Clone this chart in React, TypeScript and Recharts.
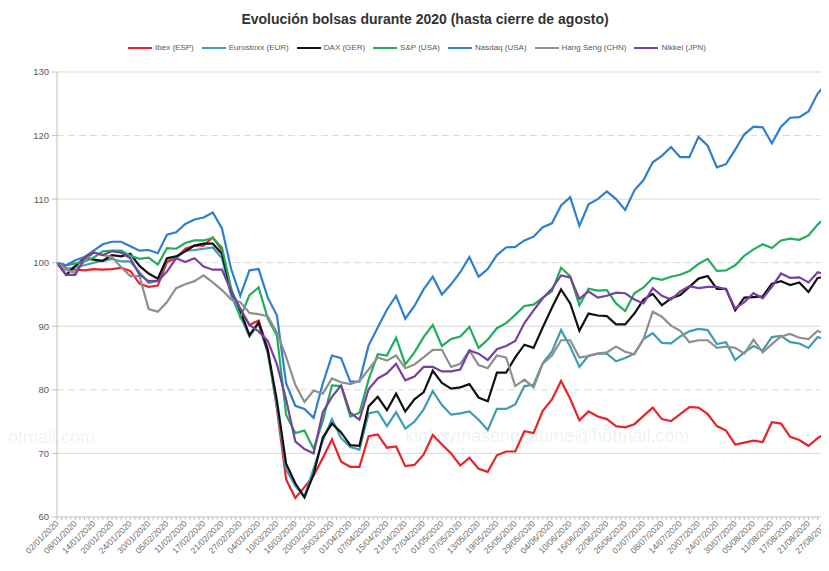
import { LineChart, Line, XAxis, YAxis, ReferenceLine, Legend } from 'recharts';

// one point every 2 trading days, from 02/01/2020 (x = 0) to 31/08/2020 (x = 170)
const ibex = [
  100, 99.1, 98.9, 98.8, 99, 98.9, 99, 99.2, 98.7, 96.7,
  96.2, 96.4, 100.1, 100.7, 102.2, 102.7, 102.7, 104, 102, 95.5,
  92.7, 90.2, 90.9, 86.4, 77, 65.9, 63, 64.7, 66.5, 69.3,
  72.2, 68.7, 67.9, 67.9, 72.7, 73, 70.9, 71.1, 68, 68.2,
  69.8, 72.9, 71.4, 70, 68.1, 69.3, 67.6, 67.1, 69.7, 70.3,
  70.3, 73.5, 73.2, 76.7, 78.5, 81.4, 78.6, 75.2, 76.6, 75.8,
  75.4, 74.3, 74.1, 74.6, 75.9, 77.2, 75.4, 75.1, 76.2, 77.3,
  77.2, 76.2, 74.3, 73.6, 71.4, 71.7, 72, 71.8, 74.9, 74.7,
  72.6, 72.1, 71.2, 72.4, 73.3, 71.9,
];
const eurostoxx = [
  100, 98.9, 99.3, 99.6, 100, 100.3, 100.6, 100.2, 100.2, 98.5,
  96.8, 97.2, 100.6, 100.7, 101.9, 102, 102.2, 102.4, 100.7, 94.8,
  91.6, 88.4, 90.4, 85.7, 77.4, 67.5, 64.9, 63.2, 67.6, 72,
  75.4, 72.4, 71, 70.6, 76.3, 76.6, 74.3, 76.5, 73.9, 75,
  76.9, 79.8, 77.6, 76.1, 76.3, 76.6, 75.3, 73.7, 77, 77,
  77.7, 80.6, 80.8, 84.2, 86, 89.4, 86.8, 83.6, 85.4, 85.7,
  85.7, 84.5, 85, 85.7, 88, 88.9, 87.4, 87.3, 88.4, 89.2,
  89.6, 89.4, 87.2, 87.5, 84.7, 85.9, 86.9, 86.2, 88.3, 88.5,
  87.5, 87.3, 86.6, 88.3, 87.9, 86.7,
];
const dax = [
  100, 98.1, 99.5, 100.7, 100.5, 100.3, 101.2, 101, 101.4, 99.5,
  98.3, 97.5, 100.7, 101, 101.8, 102.7, 103, 103, 101.4, 95.5,
  92.4, 88.6, 90.6, 86.2, 78.3, 68.4, 65.3, 63.1, 66.7, 72.5,
  74.7, 73.3, 71.3, 71.2, 77.4, 78.9, 76.8, 79.4, 76.6, 78.5,
  79.6, 83, 81.1, 80.2, 80.4, 80.9, 78.8, 78.2, 82.7, 82.7,
  85.1, 87.1, 86.6, 89.8, 92.9, 95.8, 93.6, 89.3, 92, 91.7,
  91.6, 90.3, 90.3, 92, 94.2, 95.1, 93.3, 94.4, 94.9, 96.2,
  97.5, 97.9, 95.9, 95.9, 92.5, 94.5, 94.6, 94.7, 96.7, 97.1,
  96.5, 96.9, 95.4, 97.6, 97.8, 96.7,
];
const sp500 = [
  100, 99.6, 99.9, 100.2, 100.8, 101.8, 101.9, 101.9, 101.1, 100.6,
  100.8, 99.7, 102.3, 102.2, 103.1, 103.5, 103.5, 103.9, 102.4, 96,
  91.4, 94.9, 96.1, 91.2, 88.5, 76.1, 73.2, 73.6, 70.7, 75.1,
  80.7, 80.6, 75.8, 76.4, 81.6, 85.6, 85.4, 88.2, 84, 85.9,
  88.3, 90.2, 86.9, 88, 88.4, 89.9, 86.6, 87.9, 89.7, 90.5,
  91.8, 93.2, 93.4, 94.5, 95.5, 99.2, 97.9, 93.3, 95.9, 95.6,
  95.7, 93.6, 92.4, 95.2, 96.1, 97.6, 97.3, 97.8, 98.1, 98.7,
  99.8, 100.6, 98.7, 98.8, 99.6, 101.1, 102.1, 102.9, 102.3, 103.5,
  103.8, 103.6, 104.3, 106, 107.3, 107.8,
];
const nasdaq = [
  100, 99.6, 100.4, 100.9, 101.9, 102.9, 103.3, 103.3, 102.6, 101.9,
  102, 101.5, 104.4, 104.8, 106.1, 106.8, 107.1, 107.9, 105.4, 99,
  94.8, 98.8, 99, 94.5, 91.7, 81, 77.5, 77, 75.6, 81,
  85.4, 85, 81.3, 81.3, 87, 89.8, 92.6, 94.8, 91.2, 93.2,
  95.8, 97.8, 95, 96.6, 98.5, 100.9, 97.8, 99, 101.2, 102.4,
  102.5, 103.5, 104.1, 105.6, 106.2, 109, 110.3, 105.8, 109.2, 110,
  111.2, 110, 108.3, 111.4, 113, 115.8, 116.8, 118.2, 116.6, 116.6,
  119.8, 118.4, 115, 115.5, 117.8, 120.2, 121.4, 121.3, 118.8, 121.4,
  122.8, 122.9, 123.8, 126.6, 128.3, 129.4,
];
const hangSeng = [
  100, 98.9, 98.4, 100.3, 101.6, 101.2, 100.9, 99.3, 97.9, 97.9,
  92.7, 92.3, 93.8, 96, 96.6, 97.1, 98, 96.9, 95.7, 94.2,
  93.8, 92.1, 91.9, 91.6, 89, 85.2, 80.8, 78.1, 79.9, 79.4,
  81.8, 81.2, 80.9, 81.4, 83.2, 85.1, 84.6, 85.4, 83.4, 84,
  85.1, 86.3, 86.3, 83.6, 84.1, 86.2, 83.9, 83.4, 85.4, 85.1,
  80.6, 81.6, 80.4, 84.1, 85.4, 87.8, 87.8, 85.1, 85.3, 85.7,
  85.9, 86.8, 86, 85.6, 88, 92.3, 91.5, 90.1, 89.3, 87.5,
  87.8, 87.8, 86.6, 86.8, 86.6, 85.7, 87.9, 85.9, 87.2, 88.4,
  88.8, 88.2, 88, 89.3, 88.6, 88.2,
];
const nikkei = [
  100, 98.1, 98.1, 100.8, 101.6, 101.2, 101.8, 101.6, 100.7, 98.1,
  97.1, 97.1, 98.6, 100.7, 100.1, 100.7, 99.4, 98.9, 98.9, 95.6,
  92.8, 90.2, 89.2, 87.7, 84, 78.5, 71.9, 70.7, 70, 76.5,
  78.9, 80.7, 76.4, 75.3, 80.1, 81.8, 82.6, 84.1, 81.5, 82.1,
  83.6, 83.6, 82.9, 82.9, 83.2, 86.2, 85.7, 84.7, 86.4, 86.9,
  87.7, 90.5, 92.5, 94.4, 95.9, 98, 97.7, 94.3, 95.5, 94.5,
  94.8, 95.3, 95.2, 94.2, 93.6, 96, 94.8, 94.2, 95.5, 96.3,
  96, 96.2, 96.2, 95.8, 92.8, 93.8, 95.2, 94.4, 96.2, 98.3,
  97.6, 97.7, 96.9, 98.5, 98.1, 97.8,
];

// one label every 4 trading days
const tickLabels = [
  '02/01/2020', '08/01/2020', '14/01/2020', '20/01/2020', '24/01/2020', '30/01/2020',
  '05/02/2020', '11/02/2020', '17/02/2020', '21/02/2020', '27/02/2020',
  '04/03/2020', '10/03/2020', '16/03/2020', '20/03/2020', '26/03/2020',
  '01/04/2020', '07/04/2020', '15/04/2020', '21/04/2020', '27/04/2020',
  '01/05/2020', '07/05/2020', '13/05/2020', '19/05/2020', '25/05/2020', '29/05/2020',
  '04/06/2020', '10/06/2020', '16/06/2020', '22/06/2020', '26/06/2020',
  '02/07/2020', '08/07/2020', '14/07/2020', '20/07/2020', '24/07/2020', '30/07/2020',
  '05/08/2020', '11/08/2020', '17/08/2020', '21/08/2020', '27/08/2020',
];
const lastDay = 170;
const yTicks = [60, 70, 80, 90, 100, 110, 120, 130];

const series = [
  { key: 'ibex', name: 'Ibex (ESP)', color: '#e8232b' },
  { key: 'eurostoxx', name: 'Eurostoxx (EUR)', color: '#3f9db0' },
  { key: 'dax', name: 'DAX (GER)', color: '#111111' },
  { key: 'sp500', name: 'S&P (USA)', color: '#22ad5c' },
  { key: 'nasdaq', name: 'Nasdaq (USA)', color: '#2f7fcf' },
  { key: 'hangSeng', name: 'Hang Seng (CHN)', color: '#8f8f8f' },
  { key: 'nikkei', name: 'Nikkei (JPN)', color: '#7a40a0' },
];

const data = ibex.map((v, i) => ({
  x: i * 2,
  ibex: v,
  eurostoxx: eurostoxx[i],
  dax: dax[i],
  sp500: sp500[i],
  nasdaq: nasdaq[i],
  hangSeng: hangSeng[i],
  nikkei: nikkei[i],
}));

const dayTicks = Array.from({ length: lastDay + 1 }, (_, i) => i);

const font = '"Liberation Sans", Arial, sans-serif';

const DateTick = (props: any) => {
  const { x, y, payload } = props;
  const v = payload.value;
  if (v % 4 !== 0 || !tickLabels[v / 4]) return <g />;
  return (
    <text
      x={x}
      y={y}
      dy={3}
      transform={`rotate(-45 ${x} ${y})`}
      textAnchor="end"
      fontSize={8.5}
      fontFamily={font}
      fill="#6b6b6b"
    >
      {tickLabels[v / 4]}
    </text>
  );
};

const renderLegend = () => (
  <div style={{ display: 'flex', justifyContent: 'center', alignItems: 'center', fontFamily: font, fontSize: 8, color: '#595959' }}>
    {series.map((s) => (
      <div key={s.key} style={{ display: 'flex', alignItems: 'center', marginRight: 8 }}>
        <svg width={24} height={6}>
          <line x1={0} y1={3} x2={24} y2={3} stroke={s.color} strokeWidth={2} />
        </svg>
        <span style={{ marginLeft: 3 }}>{s.name}</span>
      </div>
    ))}
  </div>
);

const App = () => {
  return (
    <div style={{ position: 'relative', width: 821, height: 563, overflow: 'hidden', fontFamily: font }}>
      <div
        style={{
          position: 'absolute',
          top: 3,
          left: 0,
          width: 821,
          paddingLeft: 13,
          boxSizing: 'border-box',
          textAlign: 'center',
          fontSize: 14,
          fontWeight: 'bold',
          color: '#333333',
        }}
      >
        Evolución bolsas durante 2020 (hasta cierre de agosto)
      </div>
      <div style={{ position: 'absolute', top: 418, left: 397, fontSize: 18, color: 'rgba(0,0,0,0.07)', whiteSpace: 'nowrap' }}>
        kiokoymaseng.jaume@hotmail.com
      </div>
      <div style={{ position: 'absolute', top: 419, left: 0, fontSize: 18, color: 'rgba(0,0,0,0.07)', whiteSpace: 'nowrap' }}>
        otmail.com
      </div>
      <LineChart width={840} height={563} data={data} margin={{ top: 64, right: 12, bottom: 0, left: 9 }}>
        {yTicks.slice(1).map((v) => (
          <ReferenceLine
            key={v}
            y={v}
            stroke="#d9d9d9"
            strokeWidth={1}
            strokeDasharray={v % 20 === 0 ? '7 4' : undefined}
          />
        ))}
        <XAxis
          dataKey="x"
          type="number"
          domain={[0, lastDay]}
          ticks={dayTicks}
          interval={0}
          height={54}
          tickSize={3}
          tickMargin={2}
          stroke="#bfbfbf"
          tick={<DateTick />}
        />
        <YAxis
          domain={[60, 130]}
          ticks={yTicks}
          width={40}
          tickSize={5}
          tickMargin={3}
          stroke="#bfbfbf"
          tick={{ fontSize: 9.5, fill: '#595959', fontFamily: font }}
          allowDataOverflow
        />
        <Legend
          layout="horizontal"
          verticalAlign="middle"
          align="center"
          wrapperStyle={{ top: 35, left: 0, width: 826, height: 14 }}
          content={renderLegend}
        />
        {series.map((s) => (
          <Line
            key={s.key}
            type="linear"
            dataKey={s.key}
            name={s.name}
            stroke={s.color}
            strokeWidth={2.2}
            dot={false}
            isAnimationActive={false}
          />
        ))}
      </LineChart>
    </div>
  );
};

export default App;
